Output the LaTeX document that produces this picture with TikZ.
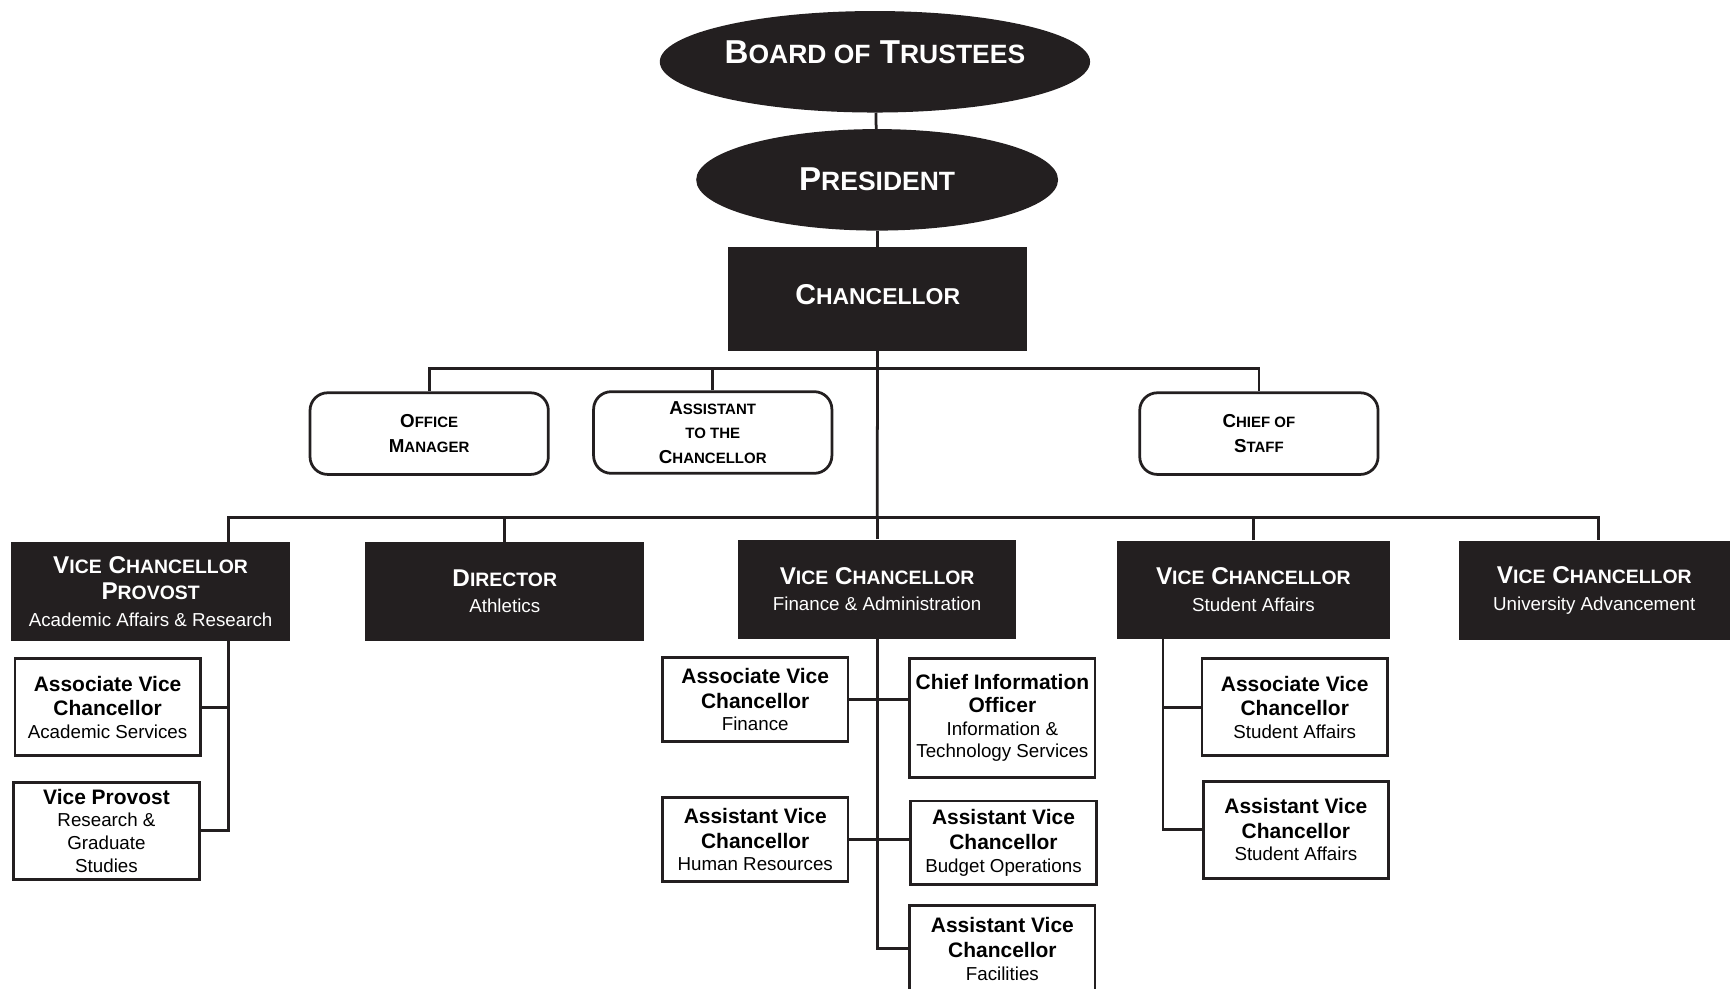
\documentclass[tikz,border=0pt]{standalone}
\usepackage{fontspec}
\setmainfont{Liberation Sans}
\usepackage{graphicx}
\usetikzlibrary{shapes.geometric}

\definecolor{ink}{HTML}{231F20}
\newcommand{\smc}[1]{\scalebox{0.8}{#1}}
\newcommand{\vch}{V\smc{ICE} C\smc{HANCELLOR}}
\newcommand{\ttl}[1]{{\bfseries\fontsize{19}{21}\selectfont #1}}
\newcommand{\htl}[1]{{\bfseries\fontsize{22}{24}\selectfont #1}}

\tikzset{
  oval/.style={ellipse, fill=ink, text=white, inner sep=0pt,
    font=\bfseries\fontsize{30}{34}\selectfont},
  head/.style={rectangle, fill=ink, text=white, inner sep=0pt,
    minimum width=253pt, minimum height=90pt, align=center,
    font=\fontsize{17}{24}\selectfont},
  staff/.style={rectangle, draw=ink, line width=2.5pt, rounded corners=16pt,
    minimum width=216pt, minimum height=74pt, inner sep=0pt, align=center,
    font=\bfseries\fontsize{17}{22}\selectfont},
  unit/.style={rectangle, draw=ink, line width=2.5pt, minimum width=168pt,
    inner sep=0pt, align=center, font=\fontsize{17}{20.5}\selectfont},
  link/.style={draw=ink, line width=2.5pt},
}

\begin{document}
\begin{tikzpicture}[x=1pt,y=-1pt]
\useasboundingbox (0,0) rectangle (1568,896);

% top of the chart
\node[oval, minimum width=390pt, minimum height=92pt] (board) at (793,56) {\raisebox{17pt}{B\smc{OARD OF} T\smc{RUSTEES}}};
\node[oval, minimum width=328pt, minimum height=92pt] (pres) at (795,163) {\raisebox{2pt}{P\smc{RESIDENT}}};
\node[head, minimum width=271pt, minimum height=94pt,
  font=\bfseries\fontsize{26}{30}\selectfont] (chan) at (795.5,271) {\raisebox{8pt}{C\smc{HANCELLOR}}};

% chancellor's staff
\node[staff] (office) at (389,393) {O\smc{FFICE}\\M\smc{ANAGER}};
\node[staff] (asst) at (646,392) {A\smc{SSISTANT}\\\smc{TO THE}\\C\smc{HANCELLOR}};
\node[staff] (chief) at (1141,393) {C\smc{HIEF OF}\\S\smc{TAFF}};

% vice chancellors
\node[head] (prov) at (136.5,536) {\htl{\vch}\\\htl{P\smc{ROVOST}}\\Academic Affairs \& Research};
\node[head] (dir) at (457.5,536) {\htl{D\smc{IRECTOR}}\\Athletics};
\node[head, minimum width=252pt] (fin) at (795,534) {\htl{\vch}\\Finance \& Administration};
\node[head, minimum width=248pt, minimum height=89pt] (stud) at (1136,534.5) {\htl{\vch}\\Student Affairs};
\node[head, minimum width=246pt] (adv) at (1445,535) {\htl{\vch}\\University Advancement};

% units
\node[unit, minimum height=88pt] (acad) at (97.5,641) {\ttl{Associate Vice}\\[2pt]\ttl{Chancellor}\\Academic Services};
\node[unit, minimum height=88pt] (vprov) at (96.5,753) {\ttl{Vice Provost}\\Research \&\\Graduate\\Studies};
\node[unit, minimum height=76pt] (afin) at (684.5,634) {\ttl{Associate Vice}\\[2pt]\ttl{Chancellor}\\Finance};
\node[unit, minimum height=108pt] (cio) at (908.5,651) {\ttl{Chief Information}\\\ttl{Officer}\\Information \&\\Technology Services};
\node[unit, minimum height=76pt] (hr) at (684.5,761) {\ttl{Assistant Vice}\\[2pt]\ttl{Chancellor}\\Human Resources};
\node[unit, minimum height=76pt] (budget) at (909.5,764) {\ttl{Assistant Vice}\\[2pt]\ttl{Chancellor}\\Budget Operations};
\node[unit, minimum height=78pt] (fac) at (908.5,860) {\ttl{Assistant Vice}\\[2pt]\ttl{Chancellor}\\Facilities};
\node[unit, minimum height=88pt] (asa) at (1173.5,641) {\ttl{Associate Vice}\\[2pt]\ttl{Chancellor}\\Student Affairs};
\node[unit, minimum height=88pt] (bsa) at (1174.5,752) {\ttl{Assistant Vice}\\[2pt]\ttl{Chancellor}\\Student Affairs};

\coordinate (bus1) at (795,334);
\coordinate (bus2) at (795,469);
\coordinate (pspine) at (207,469);
\coordinate (aspine) at (1449,469);
\coordinate (sspine) at (1054,579);

% connectors
\draw[link] (board) -- (pres);
\draw[link] (pres) -- (chan);
\draw[link] (chan) -- (bus2);
\draw[link] (office.north) |- (bus1) -| (chief.north);
\draw[link] (asst.north) -- (asst.north |- bus1);
\draw[link] (prov.north -| pspine) -- (pspine) -- (aspine) -- (aspine |- adv.north);
\draw[link] (dir.north) -- (dir.north |- bus2);
\draw[link] (fin.north) -- (bus2);
\draw[link] (stud.north) -- (stud.north |- bus2);

\draw[link] (prov.south -| pspine) |- (vprov.east);
\draw[link] (acad.east) -- (acad.east -| pspine);
\draw[link] (fin.south) |- (fac.west);
\draw[link] (afin.east) -- (afin.east -| cio.west);
\draw[link] (hr.east) -- (hr.east -| budget.west);
\draw[link] (stud.south -| sspine) |- (bsa.west);
\draw[link] (asa.west) -- (asa.west -| sspine);
\end{tikzpicture}
\end{document}
